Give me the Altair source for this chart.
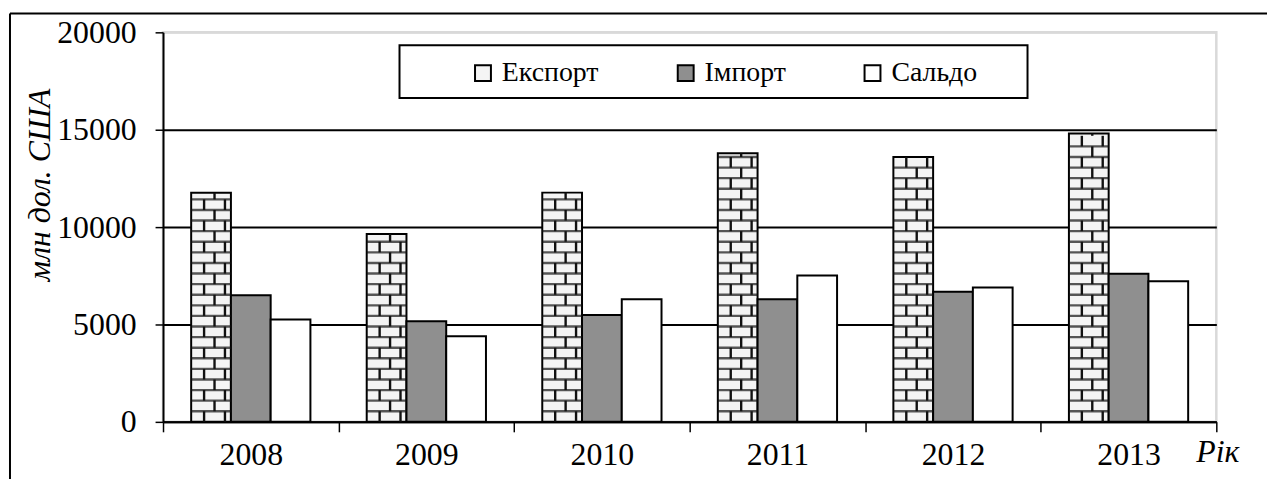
import altair as alt
import pandas as pd

years = ["2008", "2009", "2010", "2011", "2012", "2013"]
export_vals = [11760, 9650, 11770, 13790, 13600, 14800]
import_vals = [6500, 5170, 5490, 6300, 6680, 7610]
saldo_vals = [5260, 4400, 6290, 7510, 6900, 7220]
series = ["Експорт", "Імпорт", "Сальдо"]
fills = ["#f4f4f4", "#8f8f8f", "#ffffff"]

FONT = "Liberation Serif"
W, H = 1060, 392

rows = []
for y, e, i, s in zip(years, export_vals, import_vals, saldo_vals):
    rows.append({"year": y, "series": series[0], "value": e})
    rows.append({"year": y, "series": series[1], "value": i})
    rows.append({"year": y, "series": series[2], "value": s})
df = pd.DataFrame(rows)

# brick texture for the export bars (derived from the export values)
BRICK = 544
h_lines, joints = [], []
for y, e in zip(years, export_vals):
    k = 1
    while k * BRICK < e - 120:
        h_lines.append({"year": y, "value": k * BRICK})
        k += 1
    r = 0
    while r * BRICK < e - 60:
        lo, hi = r * BRICK, min((r + 1) * BRICK, e)
        offs = ["a", "b"] if r % 2 == 0 else ["c"]
        for o in offs:
            joints.append({"year": y, "value": lo, "value2": hi, "kind": o})
        r += 1
df_h = pd.DataFrame(h_lines)
df_j = pd.DataFrame(joints)
one = pd.DataFrame({"k": [0]})

xscale = alt.Scale(domain=years, paddingInner=0, paddingOuter=0, round=False)
yscale = alt.Scale(domain=[0, 20000])

bars = alt.Chart(df).mark_bar(stroke="black", strokeWidth=2).encode(
    x=alt.X("year:N", scale=xscale, sort=years, axis=alt.Axis(
        title="Рік", titleX=1061, titleY=30, titleAlign="center", titleBaseline="middle",
        labelAngle=0, labelPadding=8, tickBand="extent", tickSize=10, grid=False)),
    xOffset=alt.XOffset("series:N", sort=series,
                        scale=alt.Scale(domain=series, paddingInner=0,
                                        paddingOuter=0.7083, round=False)),
    y=alt.Y("value:Q", scale=yscale, axis=alt.Axis(
        values=[0, 5000, 10000, 15000, 20000], format="d",
        title="млн дол. США", titleAngle=270,
        titleX=-124, titleY=153, titleAlign="center", titleBaseline="middle",
        labelPadding=19, tickSize=8, grid=True,
        gridColor={"condition": {"test": "datum.value === 20000", "value": "#d9d9d9"},
                   "value": "black"})),
    fill=alt.Fill("series:N", scale=alt.Scale(domain=series, range=fills), legend=alt.Legend(
        title=None, orient="none", legendX=308, legendY=27, direction="horizontal",
        symbolType="square", symbolSize=256, symbolStrokeColor="black",
        symbolStrokeWidth=2, symbolOpacity=1, labelOffset=5, columnPadding=73, padding=0)),
)

hticks = alt.Chart(df_h).mark_tick(color="#111", size=40, thickness=2.4, xOffset=-40).encode(
    x=alt.X("year:N", sort=years), y=alt.Y("value:Q"))

def joint_layer(kind, off):
    return alt.Chart(df_j).transform_filter(alt.datum.kind == kind).mark_rule(
        color="#111", strokeWidth=2.4, xOffset=-40 + off).encode(
        x=alt.X("year:N", sort=years), y=alt.Y("value:Q"), y2="value2:Q")

legend_box = alt.Chart(one).mark_rect(fill="white", stroke="black", strokeWidth=2).encode(
    x=alt.value(238), x2=alt.value(870), y=alt.value(13), y2=alt.value(66))

frame_left = alt.Chart(one).mark_rule(color="black", strokeWidth=2).encode(
    x=alt.value(-154), y=alt.value(-19), y2=alt.value(470))
frame_top = alt.Chart(one).mark_rule(color="black", strokeWidth=2).encode(
    x=alt.value(-154), x2=alt.value(1130), y=alt.value(-19))

chart = alt.layer(
    frame_left, frame_top, legend_box, bars, hticks,
    joint_layer("a", -7), joint_layer("b", 14), joint_layer("c", 3.5),
).properties(
    width=W, height=H,
    autosize=alt.AutoSizeParams(type="none"),
    padding={"left": 156, "top": 23, "right": 51, "bottom": 56},
    background="white",
).configure(font=FONT).configure_view(
    stroke="#d9d9d9", strokeWidth=2.5
).configure_axis(
    labelFont=FONT, labelFontSize=32, labelColor="black",
    titleFont=FONT, titleFontSize=32, titleFontStyle="italic", titleFontWeight="normal",
    titleColor="black", tickColor="black", tickWidth=1.5,
    domainColor="black", domainWidth=2, gridWidth=2,
).configure_legend(
    labelFont=FONT, labelFontSize=28, labelColor="black",
)

chart.save("out.html", embed_options={"renderer": "svg", "actions": False})
